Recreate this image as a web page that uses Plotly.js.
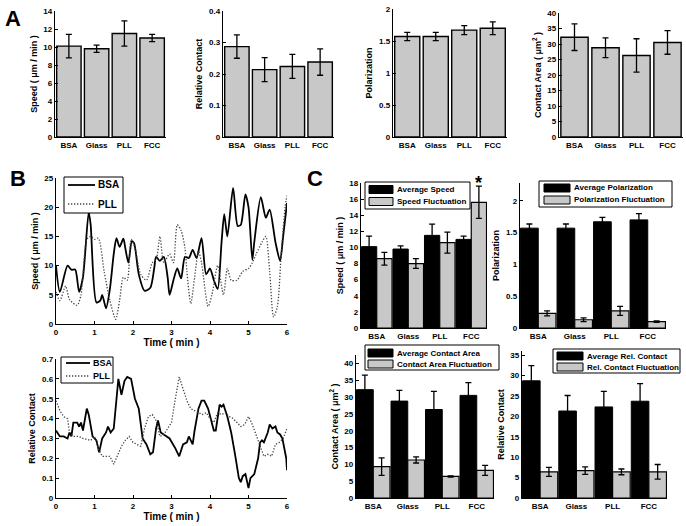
<!DOCTYPE html>
<html><head><meta charset="utf-8">
<script src="https://cdn.plot.ly/plotly-3.0.1.min.js"></script>
<style>html,body{margin:0;padding:0;background:#fff;}#g{width:686px;height:526px;}</style>
</head><body><div id="g"></div>
<script>
const W = 686, H = 526;
const cats = ['BSA', 'Glass', 'PLL', 'FCC'];

// Panel A / C values
const speedAvg = [10.1, 9.8, 11.5, 11.0];
const speedAvgErr = [1.3, 0.4, 1.4, 0.4];
const relContact = [0.287, 0.214, 0.224, 0.238];
const relContactErr = [0.037, 0.038, 0.038, 0.042];
const polAvg = [1.57, 1.57, 1.67, 1.70];
const polAvgErr = [0.065, 0.065, 0.07, 0.10];
const areaAvg = [32.2, 28.8, 26.3, 30.5];
const areaAvgErr = [4.3, 3.2, 5.4, 3.8];
const speedFluct = [8.6, 8.0, 10.6, 15.6];
const speedFluctErr = [0.8, 0.6, 1.3, 2.0];
const polFluct = [0.23, 0.13, 0.27, 0.10];
const polFluctErr = [0.04, 0.03, 0.07, 0.01];
const areaFluct = [9.3, 11.3, 6.4, 8.2];
const areaFluctErr = [2.6, 0.9, 0.2, 1.5];
const relAvgPct = [28.7, 21.3, 22.3, 23.7];
const relAvgPctErr = [3.7, 3.8, 3.8, 4.3];
const relFluctPct = [6.4, 6.7, 6.4, 6.4];
const relFluctPctErr = [1.1, 0.9, 0.7, 1.8];

// Legend labels
const seriesB = ['BSA', 'PLL'];
const namesSpeed = ['Average Speed', 'Speed Fluctuation'];
const namesPol = ['Average Polarization', 'Polarization Fluctuation'];
const namesArea = ['Average Contact Area', 'Contact Area Fluctuation'];
const namesRel = ['Average Rel. Contact', 'Rel. Contact Fluctuation'];

// Panel B time series
const bsaSpeedT = [0,0.1,0.3,0.4,0.5,0.6,0.7,0.85,0.9,1.05,1.15,1.2,1.3,1.4,1.5,1.57,1.65,1.75,1.8,1.88,1.97,2.03,2.15,2.3,2.45,2.55,2.6,2.7,2.8,2.9,2.95,3.05,3.15,3.25,3.35,3.45,3.55,3.65,3.78,3.9,4.0,4.1,4.2,4.3,4.37,4.45,4.6,4.72,4.8,4.92,5.0,5.1,5.15,5.32,5.45,5.55,5.7,5.82,5.9,6.0];
const bsaSpeed = [10,5.5,10,9.3,9.3,5.5,8,19.2,17,3.7,4,5,2.7,6,12,14.7,13.2,14.6,13,10.5,14.2,13.8,8.5,5.7,6.2,9.5,11.5,10.8,11.5,8,5,7.5,9.5,7.8,11.5,11.3,12.7,11.3,14.7,8.5,9.5,7.5,6,14,18.8,15,23.3,16.8,17,22.2,20,11,14,21.7,18.2,19.6,14,10.8,15,20.7];
const pllSpeedT = [0,0.1,0.25,0.35,0.55,0.65,0.8,0.9,1.0,1.1,1.25,1.4,1.55,1.65,1.75,1.85,1.95,2.05,2.2,2.35,2.5,2.6,2.7,2.8,2.95,3.05,3.15,3.25,3.35,3.4,3.5,3.6,3.7,3.78,3.95,4.05,4.2,4.35,4.45,4.55,4.7,4.85,5.0,5.1,5.2,5.35,5.45,5.55,5.65,5.75,5.85,5.95,6.0];
const pllSpeed = [5.5,4,6.5,4.2,3.2,5,14.5,15,14.5,14.7,9,4,0.8,4,8,7.5,14.5,13,8.5,7.5,10.5,11,15,10.5,12,10.5,17,16,13,9,3.5,8,12.5,10.5,3,5,10,5,9.5,7.5,7.5,9,9.5,10.5,12,14,15,9,1.2,3,12,20,22];
const bsaContactT = [0,0.1,0.2,0.3,0.35,0.4,0.45,0.55,0.6,0.65,0.7,0.8,0.85,0.95,1.05,1.12,1.2,1.3,1.35,1.42,1.5,1.55,1.62,1.7,1.78,1.85,1.95,2.05,2.15,2.25,2.35,2.45,2.52,2.6,2.65,2.72,2.8,2.95,3.1,3.2,3.3,3.4,3.45,3.55,3.6,3.7,3.78,3.85,3.95,4.05,4.1,4.15,4.25,4.3,4.35,4.45,4.55,4.65,4.75,4.8,4.85,4.92,4.97,5.0,5.05,5.15,5.25,5.3,5.35,5.4,5.5,5.55,5.62,5.7,5.75,5.82,5.88,5.92,5.98,6.0];
const bsaContact = [0.34,0.31,0.31,0.30,0.33,0.31,0.38,0.38,0.36,0.38,0.34,0.45,0.42,0.31,0.29,0.23,0.30,0.33,0.36,0.33,0.35,0.45,0.60,0.52,0.59,0.61,0.60,0.50,0.45,0.30,0.27,0.22,0.23,0.35,0.39,0.33,0.32,0.30,0.25,0.21,0.27,0.28,0.31,0.27,0.34,0.45,0.49,0.49,0.45,0.38,0.34,0.34,0.47,0.46,0.47,0.41,0.33,0.22,0.10,0.08,0.11,0.12,0.08,0.05,0.10,0.12,0.20,0.28,0.29,0.28,0.33,0.37,0.35,0.36,0.33,0.32,0.30,0.26,0.20,0.14];
const pllContactT = [0,0.1,0.2,0.3,0.35,0.45,0.6,0.7,0.9,1.0,1.1,1.2,1.3,1.4,1.5,1.6,1.7,1.8,1.9,2.0,2.1,2.2,2.3,2.4,2.5,2.6,2.7,2.8,2.9,3.0,3.1,3.2,3.3,3.4,3.5,3.6,3.7,3.8,3.9,4.0,4.1,4.2,4.3,4.4,4.5,4.6,4.7,4.8,4.9,5.0,5.1,5.2,5.3,5.4,5.5,5.6,5.7,5.8,5.9,6.0];
const pllContact = [0.49,0.44,0.41,0.40,0.33,0.31,0.31,0.30,0.29,0.31,0.25,0.21,0.21,0.21,0.17,0.22,0.26,0.29,0.31,0.28,0.27,0.26,0.35,0.41,0.42,0.39,0.31,0.32,0.35,0.38,0.50,0.61,0.55,0.49,0.45,0.44,0.43,0.42,0.43,0.40,0.38,0.43,0.42,0.43,0.41,0.40,0.38,0.36,0.37,0.41,0.37,0.32,0.26,0.21,0.22,0.21,0.27,0.28,0.30,0.35];

const GRAY = '#c8c8c8';
const PLLCOL = '#444';
const PLLDASH = '1.3px,1.7px';
const FONT = 'Liberation Sans, Arial, sans-serif';
const tickFont = {family: FONT, size: 8, color: '#000', weight: 'bold'};
const titleFont = {family: FONT, size: 9, color: '#000', weight: 'bold'};

function dx(a, b) { return [a / W, b / W]; }
function dy(top, bot) { return [1 - bot / H, 1 - top / H]; }
function px(x) { return x / W; }
function py(y) { return 1 - y / H; }

const layout = {
  width: W, height: H, margin: {l: 0, r: 0, t: 0, b: 0},
  paper_bgcolor: '#fff', plot_bgcolor: '#fff', showlegend: false,
  barmode: 'group', bargap: 0.03, bargroupgap: 0,
  annotations: [], shapes: []
};

function ax(i, xpx, ypx, yrange, dtick, ytitle, opts) {
  opts = opts || {};
  const xs = i === 1 ? 'xaxis' : 'xaxis' + i;
  const ys = i === 1 ? 'yaxis' : 'yaxis' + i;
  const xa = {
    domain: dx(xpx[0], xpx[1]), anchor: 'y' + (i === 1 ? '' : i),
    showline: true, linecolor: '#000', linewidth: 1.3, showgrid: false, zeroline: false,
    ticks: 'inside', ticklen: 3, tickwidth: 1, tickcolor: '#000', tickfont: tickFont,
    fixedrange: true
  };
  if (opts.numeric) {
    Object.assign(xa, {range: [0, 6], dtick: 1, tick0: 0});
    if (opts.xtitle) xa.title = {text: opts.xtitle, font: {family: FONT, size: 10, color: '#000', weight: 'bold'}, standoff: 2};
  } else {
    Object.assign(xa, {type: 'category', range: [-0.5, 3.5], ticklen: 0});
  }
  const ya = {
    domain: dy(ypx[0], ypx[1]), anchor: 'x' + (i === 1 ? '' : i),
    range: yrange, dtick: dtick, tick0: 0,
    showline: true, linecolor: '#000', linewidth: 1.3, showgrid: false, zeroline: false,
    ticks: 'inside', ticklen: 3, tickwidth: 1, tickcolor: '#000', tickfont: tickFont,
    title: {text: ytitle, font: titleFont, standoff: 4}, fixedrange: true
  };
  layout[xs] = xa; layout[ys] = ya;
}

// Axes layout
ax(1, [55, 166], [11, 137], [0, 14], 2, 'Speed ( μm / min )');
ax(2, [223, 334], [11, 137], [0, 0.4], 0.1, 'Relative Contact');
ax(3, [393, 507], [9, 137], [0, 2], 0.5, 'Polarization');
ax(4, [559, 683], [13, 137], [0, 40], 5, 'Contact Area ( μm<sup>2</sup> )');
ax(5, [56, 287], [178, 324], [0, 25], 5, 'Speed ( μm / min )', {numeric: true, xtitle: 'Time ( min )'});
ax(6, [56, 287], [359, 498], [0, 0.7], 0.1, 'Relative Contact', {numeric: true, xtitle: 'Time ( min )'});
ax(7, [361, 487], [183, 328], [0, 18], 2, 'Speed ( μm / min )');
ax(8, [520, 666], [183, 328], [0, 2.28], 0.5, 'Polarization');
ax(9, [356, 494], [355, 498], [0, 42.5], 5, 'Contact Area ( μm<sup>2</sup> )');
ax(10, [522, 667], [351, 498], [0, 36], 5, 'Relative Contact');

const traces = [];
function errBar(arr) { return {type: 'data', array: arr, visible: true, color: '#000', thickness: 1.3, width: 3}; }

function singleBar(i, y, e) {
  traces.push({type: 'bar', x: cats, y: y, error_y: errBar(e), xaxis: 'x' + (i === 1 ? '' : i), yaxis: 'y' + (i === 1 ? '' : i),
    marker: {color: GRAY, line: {color: '#000', width: 1.4}}, width: 0.88, hoverinfo: 'skip'});
}
singleBar(1, speedAvg, speedAvgErr);
singleBar(2, relContact, relContactErr);
singleBar(3, polAvg, polAvgErr);
singleBar(4, areaAvg, areaAvgErr);

// Panel B
traces.push({type: 'scatter', mode: 'lines', x: bsaSpeedT, y: bsaSpeed, name: seriesB[0], xaxis: 'x5', yaxis: 'y5',
  line: {color: '#000', width: 1.8, shape: 'spline', smoothing: 0.7}});
traces.push({type: 'scatter', mode: 'lines', x: pllSpeedT, y: pllSpeed, name: seriesB[1], xaxis: 'x5', yaxis: 'y5',
  line: {color: PLLCOL, width: 1.3, dash: PLLDASH, shape: 'spline', smoothing: 0.7}});
traces.push({type: 'scatter', mode: 'lines', x: bsaContactT, y: bsaContact, name: seriesB[0], xaxis: 'x6', yaxis: 'y6',
  line: {color: '#000', width: 1.8}});
traces.push({type: 'scatter', mode: 'lines', x: pllContactT, y: pllContact, name: seriesB[1], xaxis: 'x6', yaxis: 'y6',
  line: {color: PLLCOL, width: 1.3, dash: PLLDASH}});

// Panel C grouped bars
function groupBars(i, a, ae, f, fe, names) {
  const xa = 'x' + i, ya = 'y' + i;
  traces.push({type: 'bar', x: cats, y: a, error_y: errBar(ae), xaxis: xa, yaxis: ya, name: names[0],
    marker: {color: '#000', line: {color: '#000', width: 1}}, offsetgroup: 'a', hoverinfo: 'skip'});
  traces.push({type: 'bar', x: cats, y: f, error_y: errBar(fe), xaxis: xa, yaxis: ya, name: names[1],
    marker: {color: GRAY, line: {color: '#000', width: 1.2}}, offsetgroup: 'f', hoverinfo: 'skip'});
}
groupBars(7, speedAvg, speedAvgErr, speedFluct, speedFluctErr, namesSpeed);
groupBars(8, polAvg, polAvgErr, polFluct, polFluctErr, namesPol);
groupBars(9, areaAvg, areaAvgErr, areaFluct, areaFluctErr, namesArea);
groupBars(10, relAvgPct, relAvgPctErr, relFluctPct, relFluctPctErr, namesRel);

// Legend boxes (drawn in paper space)
function legendBox(box, rows, sw, textX, labels, kind, fs) {
  layout.shapes.push({type: 'rect', xref: 'paper', yref: 'paper', x0: px(box[0]), x1: px(box[1]), y0: py(box[3]), y1: py(box[2]),
    line: {color: '#000', width: 1}, fillcolor: '#fff', layer: 'above'});
  labels.forEach((lab, k) => {
    const yc = rows[k];
    if (kind === 'line') {
      layout.shapes.push({type: 'line', xref: 'paper', yref: 'paper', x0: px(sw[0]), x1: px(sw[1]), y0: py(yc), y1: py(yc),
        line: k === 0 ? {color: '#000', width: 1.8} : {color: PLLCOL, width: 1.3, dash: PLLDASH}, layer: 'above'});
    } else {
      layout.shapes.push({type: 'rect', xref: 'paper', yref: 'paper', x0: px(sw[0]), x1: px(sw[1]), y0: py(yc + 4), y1: py(yc - 4),
        fillcolor: k === 0 ? '#000' : GRAY, line: {color: '#000', width: 1}, layer: 'above'});
    }
    layout.annotations.push({text: lab, xref: 'paper', yref: 'paper', x: px(textX), y: py(yc), xanchor: 'left', yanchor: 'middle',
      showarrow: false, font: {family: FONT, size: fs, color: '#000', weight: 'bold'}});
  });
}
legendBox([64, 123, 177, 213], [185, 204], [68, 95], 96, seriesB, 'line', 10);
legendBox([61, 113, 357, 383], [363, 376], [66, 90], 91, seriesB, 'line', 9);
legendBox([365, 470, 182, 209], [189.5, 201.5], [369, 393], 395, namesSpeed, 'rect', 8);
legendBox([539, 672, 181, 207], [188, 200], [544, 570], 572, namesPol, 'rect', 8);
legendBox([365, 499, 345, 370], [353, 364], [368, 393], 395, namesArea, 'rect', 8);
legendBox([553, 680, 349, 373], [356, 367], [557, 583], 585, namesRel, 'rect', 8);

// Panel letters and significance star
const letterFont = {family: FONT, size: 22, color: '#000', weight: 'bold'};
layout.annotations.push({text: 'A', x: 3 / W, y: 1 - 4 / H, xref: 'paper', yref: 'paper', xanchor: 'left', yanchor: 'top', showarrow: false, font: letterFont});
layout.annotations.push({text: 'B', x: 8 / W, y: 1 - 164 / H, xref: 'paper', yref: 'paper', xanchor: 'left', yanchor: 'top', showarrow: false, font: letterFont});
layout.annotations.push({text: 'C', x: 305 / W, y: 1 - 164 / H, xref: 'paper', yref: 'paper', xanchor: 'left', yanchor: 'top', showarrow: false, font: letterFont});
layout.annotations.push({text: '*', x: 3.24, y: 17.95, xref: 'x7', yref: 'y7', xanchor: 'center', yanchor: 'middle', showarrow: false,
  font: {family: FONT, size: 18, color: '#000', weight: 'bold'}});

Plotly.newPlot('g', traces, layout, {displayModeBar: false, staticPlot: true});
</script>
</body></html>
